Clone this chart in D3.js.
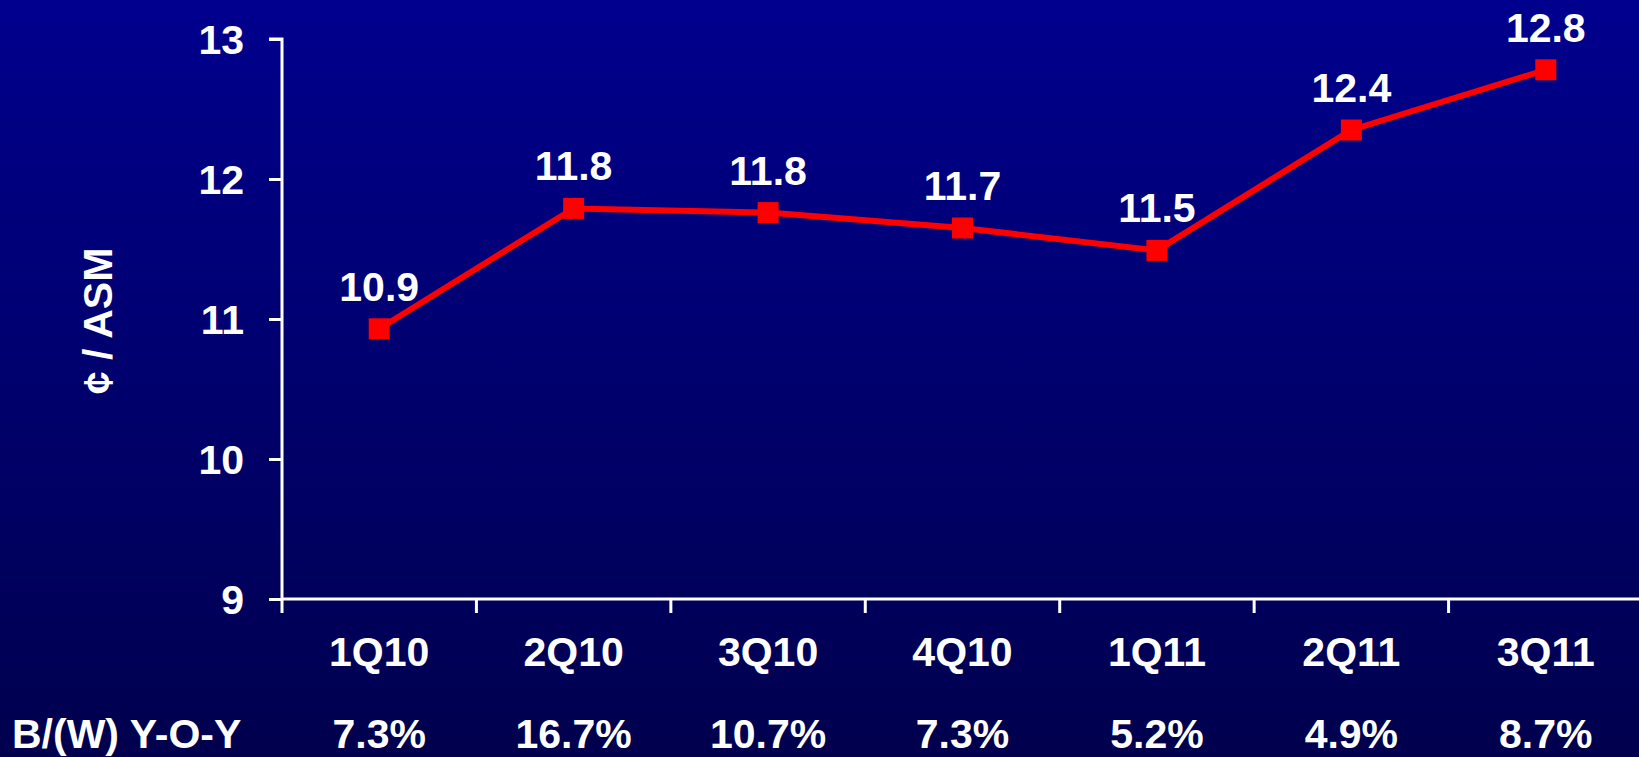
<!DOCTYPE html>
<html>
<head>
<meta charset="utf-8">
<script src="https://cdn.jsdelivr.net/npm/d3@7"></script>
<style>
  html, body { margin: 0; padding: 0; overflow: hidden; }
  svg { display: block; font-family: "Liberation Sans", Arial, sans-serif; font-weight: bold; }
</style>
</head>
<body>
<svg width="1639" height="757"></svg>
<script>
const quarters = ["1Q10", "2Q10", "3Q10", "4Q10", "1Q11", "2Q11", "3Q11"];
const casm = [10.93, 11.79, 11.76, 11.65, 11.49, 12.35, 12.78];
const casmLabels = ["10.9", "11.8", "11.8", "11.7", "11.5", "12.4", "12.8"];
const yoy = ["7.3%", "16.7%", "10.7%", "7.3%", "5.2%", "4.9%", "8.7%"];
const yTicks = [9, 10, 11, 12, 13];

const svg = d3.select("svg"),
    width = +svg.attr("width"),
    height = +svg.attr("height"),
    fs = 41;

// background gradient
const grad = svg.append("defs").append("linearGradient")
    .attr("id", "bg").attr("x1", 0).attr("y1", 0).attr("x2", 0).attr("y2", 1);
grad.append("stop").attr("offset", "0%").attr("stop-color", "#00008e");
grad.append("stop").attr("offset", "100%").attr("stop-color", "#00004e");
svg.append("rect").attr("width", width).attr("height", height).attr("fill", "url(#bg)");

const x = d3.scaleBand().domain(quarters).range([282, 1643]);
const y = d3.scaleLinear().domain([9, 13]).range([599, 39]);

// y axis
const yAxis = svg.append("g")
    .attr("transform", "translate(282,0)")
    .call(d3.axisLeft(y).tickValues(yTicks).tickFormat(d3.format("d")).tickSize(13).tickPadding(25));
yAxis.select(".domain").attr("stroke", "#fff").attr("stroke-width", 3).attr("d", "M-13,39H0V599");
yAxis.selectAll(".tick line").attr("stroke", "#fff").attr("stroke-width", 3);
yAxis.selectAll(".tick text").attr("fill", "#fff").attr("font-size", fs)
    .attr("font-family", "Liberation Sans, Arial, sans-serif").attr("font-weight", "bold")
    .attr("dy", "0.36em");

// x axis
const xAxis = svg.append("g")
    .attr("transform", "translate(0,599)")
    .call(d3.axisBottom(x).tickSize(0).tickPadding(0));
xAxis.select(".domain").attr("stroke", "#fff").attr("stroke-width", 3).attr("d", "M282,0H1643");
xAxis.selectAll(".tick text").attr("fill", "#fff").attr("font-size", fs)
    .attr("font-family", "Liberation Sans, Arial, sans-serif").attr("font-weight", "bold")
    .attr("y", 67).attr("dy", 0);
// band boundary ticks
svg.append("g").selectAll("line")
    .data(quarters)
    .join("line")
    .attr("x1", d => x(d)).attr("x2", d => x(d))
    .attr("y1", 599).attr("y2", 613)
    .attr("stroke", "#fff").attr("stroke-width", 3);

// y title
svg.append("text")
    .attr("transform", "translate(112,321) rotate(-90)")
    .attr("text-anchor", "middle")
    .attr("fill", "#fff").attr("font-size", fs)
    .text("¢ / ASM");

// line
const cx = d => x(d) + x.bandwidth() / 2;
svg.append("path")
    .datum(casm)
    .attr("fill", "none")
    .attr("stroke", "#ff0000")
    .attr("stroke-width", 6)
    .attr("d", d3.line().x((d, i) => cx(quarters[i])).y(d => y(d)));

svg.append("g").selectAll("rect")
    .data(casm)
    .join("rect")
    .attr("x", (d, i) => cx(quarters[i]) - 10.5)
    .attr("y", d => y(d) - 10.5)
    .attr("width", 21).attr("height", 21)
    .attr("fill", "#ff0000");

// data labels
svg.append("g").selectAll("text")
    .data(casmLabels)
    .join("text")
    .attr("x", (d, i) => cx(quarters[i]))
    .attr("y", (d, i) => y(casm[i]) - 28)
    .attr("text-anchor", "middle")
    .attr("fill", "#fff").attr("font-size", fs)
    .text(d => d);

// Y-O-Y row
svg.append("text")
    .attr("x", 12).attr("y", 748)
    .attr("fill", "#fff").attr("font-size", fs)
    .text("B/(W) Y-O-Y");
svg.append("g").selectAll("text")
    .data(yoy)
    .join("text")
    .attr("x", (d, i) => cx(quarters[i]))
    .attr("y", 748)
    .attr("text-anchor", "middle")
    .attr("fill", "#fff").attr("font-size", fs)
    .text(d => d);
</script>
</body>
</html>
